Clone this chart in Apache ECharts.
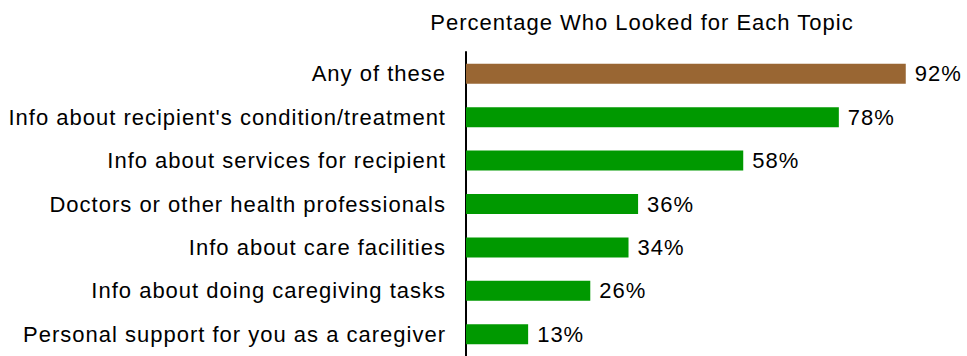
<!DOCTYPE html>
<html>
<head>
<meta charset="utf-8">
<script src="https://cdn.jsdelivr.net/npm/echarts@6/dist/echarts.min.js"></script>
<style>
  html, body { margin: 0; padding: 0; background: #fff; }
  #chart { width: 967px; height: 356px; }
  /* slightly open tracking on every chart text */
  #chart svg text { letter-spacing: 1px; }
</style>
</head>
<body>
<div id="chart"></div>
<script>
// Topics (top to bottom) and the share of caregivers who looked for each
const topics = [
  "Any of these",
  "Info about recipient's condition/treatment",
  "Info about services for recipient",
  "Doctors or other health professionals",
  "Info about care facilities",
  "Info about doing caregiving tasks",
  "Personal support for you as a caregiver"
];
const percents = [92, 78, 58, 36, 34, 26, 13];

const FONT = '"Liberation Sans", Arial, sans-serif';
const BROWN = '#996633';
const GREEN = '#009900';

const chart = echarts.init(document.getElementById('chart'), null, { renderer: 'svg' });

chart.setOption({
  animation: false,
  backgroundColor: '#ffffff',
  title: {
    text: 'Percentage Who Looked for Each Topic',
    left: 637,
    textAlign: 'center',
    top: 6,
    textStyle: { fontFamily: FONT, fontSize: 22, fontWeight: 'normal', color: '#000' }
  },
  grid: { left: 466, top: 52, width: 478, height: 310, containLabel: false },
  xAxis: {
    type: 'value',
    min: 0,
    max: 100,
    show: false
  },
  yAxis: {
    type: 'category',
    inverse: true,
    data: topics,
    axisLine: { show: true, lineStyle: { color: '#000', width: 2 } },
    axisTick: { show: false },
    splitLine: { show: false },
    axisLabel: {
      margin: 20,
      fontFamily: FONT,
      fontSize: 22,
      color: '#000'
    }
  },
  series: [{
    type: 'bar',
    data: percents.map((v, i) => ({
      value: v,
      itemStyle: { color: i === 0 ? BROWN : GREEN }
    })),
    barWidth: 20,
    label: {
      show: true,
      position: 'right',
      distance: 9,
      formatter: p => p.value + '%',
      fontFamily: FONT,
      fontSize: 22,
      color: '#000'
    }
  }]
});
</script>
</body>
</html>
